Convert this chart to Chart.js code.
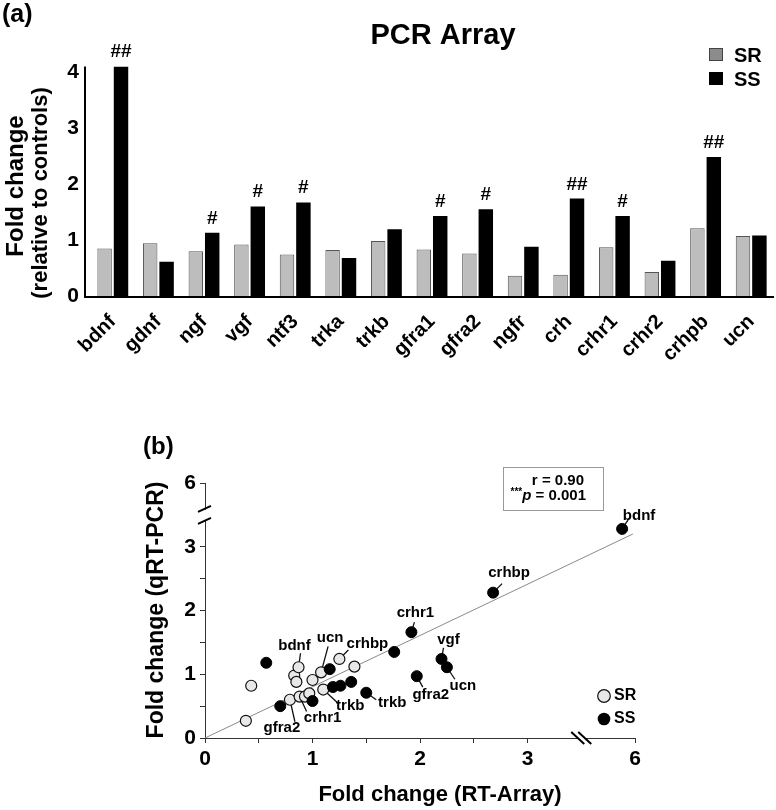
<!DOCTYPE html>
<html>
<head>
<meta charset="utf-8">
<script src="https://cdn.jsdelivr.net/npm/chart.js@4.4.1/dist/chart.umd.min.js"></script>
<style>
  html, body { margin: 0; padding: 0; background: #fff; }
  #wrap { position: relative; width: 776px; height: 810px; overflow: hidden; }
  #pcrChart { position: absolute; left: 0; top: 0; }
  #corrChart { position: absolute; left: 0; top: 430px; }
</style>
</head>
<body>
<div id="wrap">
  <canvas id="pcrChart" width="776" height="400"></canvas>
  <canvas id="corrChart" width="776" height="380"></canvas>
</div>
<script>
const FONT = "'Liberation Sans', Arial, Helvetica, sans-serif";

// ---- panel (a): PCR array fold changes ----
const genes = ['bdnf', 'gdnf', 'ngf', 'vgf', 'ntf3', 'trka', 'trkb', 'gfra1', 'gfra2', 'ngfr', 'crh', 'crhr1', 'crhr2', 'crhpb', 'ucn'];
const srFold = [0.85, 0.94, 0.80, 0.92, 0.74, 0.82, 0.98, 0.83, 0.76, 0.36, 0.38, 0.87, 0.43, 1.21, 1.07];
const ssFold = [4.10, 0.61, 1.13, 1.60, 1.67, 0.68, 1.19, 1.43, 1.55, 0.88, 1.74, 1.43, 0.63, 2.48, 1.08];
const ssSig = ['##', '', '#', '#', '#', '', '', '#', '#', '', '##', '#', '', '##', ''];
const foldTicks = [0, 1, 2, 3, 4];

// ---- panel (b): RT-array vs qRT-PCR (axis units, above the break is compressed) ----
const ssRT = [0.57, 0.70, 1.00, 1.16, 1.19, 1.26, 1.36, 1.50, 1.76, 1.92, 1.97, 2.20, 2.25, 2.68, 3.88];
const ssQ = [1.18, 0.50, 0.58, 1.08, 0.80, 0.82, 0.88, 0.71, 1.35, 1.66, 0.97, 1.24, 1.11, 2.28, 3.28];
const ssTags = ['', '', '', '', '', '', '', 'trkb', '', 'crhr1', 'gfra2', 'vgf', 'ucn', 'crhbp', 'bdnf'];
const srRT = [0.38, 0.43, 0.79, 0.83, 0.85, 0.87, 0.88, 0.93, 0.97, 1.00, 1.08, 1.10, 1.25, 1.39];
const srQ = [0.27, 0.82, 0.60, 0.98, 0.88, 1.11, 0.65, 0.65, 0.70, 0.91, 1.03, 0.76, 1.24, 1.12];
const srTags = ['', '', 'gfra2', '', '', 'bdnf', 'crhr1', '', '', '', 'ucn', 'trkb', 'crhbp', ''];
const fitRT = [0, 3.98];
const fitQ = [0, 3.20];
const axisTicks = [0, 0.5, 1, 1.5, 2, 2.5, 3, 4];
const axisTickLabels = ['0', '', '1', '', '2', '', '3', '6'];
const statR = 'r = 0.90';
const statP = ' = 0.001';

// label placement: [text dx, text dy, leader end dx, leader end dy] from the point
const tagLayout = {
  'SS:bdnf': [17, -13, 6, -9],
  'SS:crhbp': [16, -20, 9, -9],
  'SS:crhr1': [4, -19, 3, -10],
  'SS:vgf': [7, -19, 2, -11],
  'SS:ucn': [16, 19, 8, 12],
  'SS:gfra2': [14, 19, 6, 11],
  'SS:trkb': [26, 10, 10, 7],
  'SR:bdnf': [-4, -21, 2, -14],
  'SR:ucn': [9, -34, 7, -26],
  'SR:crhbp': [28, -15, 9, -9],
  'SR:trkb': [27, 16, 14, 13],
  'SR:crhr1': [23, 21, 7, 15],
  'SR:gfra2': [-8, 28, 5, 22]
};

function bold(size) { return 'bold ' + size + 'px ' + FONT; }

const pcrDecor = {
  id: 'pcrDecor',
  afterDraw(chart) {
    const { ctx, chartArea: a, scales: { y } } = chart;
    ctx.save();
    // axes
    ctx.strokeStyle = '#000';
    ctx.lineWidth = 2;
    ctx.beginPath();
    ctx.moveTo(a.left - 5, y.getPixelForValue(4.1));
    ctx.lineTo(a.left - 5, a.bottom + 1);
    ctx.lineTo(a.right, a.bottom + 1);
    ctx.stroke();

    // significance marks over SS bars
    ctx.fillStyle = '#000';
    ctx.font = bold(19);
    ctx.textAlign = 'center';
    ctx.textBaseline = 'alphabetic';
    chart.getDatasetMeta(1).data.forEach((bar, i) => {
      if (ssSig[i]) ctx.fillText(ssSig[i], bar.x, bar.y - 9);
    });

    // title + panel letter
    ctx.font = bold(29);
    ctx.fillText('PCR Array', 443, 44);
    ctx.textAlign = 'left';
    ctx.font = bold(25);
    ctx.fillText('(a)', 2, 22);

    // legend
    const lx = a.right - 65;
    ctx.lineWidth = 1;
    ctx.fillStyle = '#8c8c8c';
    ctx.strokeStyle = '#444';
    ctx.fillRect(lx, 48, 14, 13);
    ctx.strokeRect(lx + 0.5, 48.5, 13, 12);
    ctx.fillStyle = '#000';
    ctx.fillRect(lx, 72, 14, 13);
    ctx.font = bold(20);
    ctx.textBaseline = 'middle';
    ctx.fillText('SR', lx + 25, 56);
    ctx.fillText('SS', lx + 25, 80);

    // y axis title
    ctx.save();
    ctx.translate(16, 186);
    ctx.rotate(-Math.PI / 2);
    ctx.textAlign = 'center';
    ctx.font = bold(24);
    ctx.fillText('Fold change', 0, 0);
    ctx.restore();
    ctx.save();
    ctx.translate(41, 193);
    ctx.rotate(-Math.PI / 2);
    ctx.textAlign = 'center';
    ctx.font = bold(22);
    ctx.fillText('(relative to controls)', 0, 0);
    ctx.restore();
    ctx.restore();
  }
};

new Chart(document.getElementById('pcrChart'), {
  type: 'bar',
  data: {
    labels: genes,
    datasets: [
      { label: 'SR', data: srFold, backgroundColor: '#bdbdbd', borderColor: '#555', borderWidth: 1 },
      { label: 'SS', data: ssFold, backgroundColor: '#000', borderColor: '#000', borderWidth: 0 }
    ]
  },
  options: {
    responsive: false,
    animation: false,
    events: [],
    layout: { padding: { top: 66.4, right: 2, left: 0, bottom: 0 } },
    datasets: { bar: { categoryPercentage: 0.72, barPercentage: 0.88 } },
    plugins: { legend: { display: false }, tooltip: { enabled: false } },
    scales: {
      x: {
        grid: { display: false },
        border: { display: false },
        afterFit: (s) => { s.height = 104; },
        ticks: {
          autoSkip: false, maxRotation: 45, minRotation: 45, padding: 6,
          color: '#000', font: { family: FONT, size: 20, weight: 'bold' }
        }
      },
      y: {
        min: 0, max: 4.1,
        grid: { display: false, drawTicks: false },
        border: { display: false },
        afterFit: (s) => { s.width = 90; },
        afterBuildTicks: (s) => { s.ticks = foldTicks.map(v => ({ value: v })); },
        ticks: { padding: 11, color: '#000', font: { family: FONT, size: 21, weight: 'bold' } }
      }
    }
  },
  plugins: [pcrDecor]
});

function drawTags(chart, fn) {
  const groups = [['SS', 0, ssTags], ['SR', 1, srTags]];
  groups.forEach(([g, di, tags]) => {
    chart.getDatasetMeta(di).data.forEach((pt, i) => {
      const tag = tags[i];
      if (!tag) return;
      const p = tagLayout[g + ':' + tag];
      if (p) fn(pt, tag, p);
    });
  });
}

const corrDecor = {
  id: 'corrDecor',
  beforeDatasetsDraw(chart) {
    const ctx = chart.ctx;
    ctx.save();
    ctx.strokeStyle = '#111';
    ctx.lineWidth = 1.3;
    drawTags(chart, (pt, tag, p) => {
      ctx.beginPath();
      ctx.moveTo(pt.x, pt.y);
      ctx.lineTo(pt.x + p[2], pt.y + p[3]);
      ctx.stroke();
    });
    ctx.restore();
  },
  afterDatasetsDraw(chart) {
    const ctx = chart.ctx;
    ctx.save();
    ctx.fillStyle = '#000';
    ctx.font = bold(15);
    ctx.textAlign = 'center';
    ctx.textBaseline = 'middle';
    drawTags(chart, (pt, tag, p) => {
      ctx.fillText(tag, pt.x + p[0], pt.y + p[1]);
    });
    ctx.restore();
  },
  afterDraw(chart) {
    const { ctx, chartArea: a, scales: { x, y } } = chart;
    ctx.save();
    // axis breaks
    const yb = y.getPixelForValue(3.5);
    ctx.fillStyle = '#fff';
    ctx.fillRect(a.left - 2, yb - 5, 4, 10);
    const xb = x.getPixelForValue(3.5);
    ctx.fillRect(xb - 4, a.bottom - 2, 8, 4);
    ctx.strokeStyle = '#000';
    ctx.lineWidth = 2;
    ctx.beginPath();
    [-6, 6].forEach(d => {
      ctx.moveTo(a.left - 7, yb + d + 3);
      ctx.lineTo(a.left + 6, yb + d - 3);
    });
    [-3, 4].forEach(d => {
      ctx.moveTo(xb + d - 7, a.bottom - 6);
      ctx.lineTo(xb + d + 6, a.bottom + 6);
    });
    ctx.stroke();

    // stats box
    const bx = a.left + 298, by = a.top - 16, bw = 100, bh = 43;
    ctx.strokeStyle = '#999';
    ctx.lineWidth = 1;
    ctx.strokeRect(bx + 0.5, by + 0.5, bw, bh);
    ctx.fillStyle = '#000';
    ctx.textBaseline = 'middle';
    ctx.textAlign = 'right';
    ctx.font = bold(15);
    const rEdge = bx + bw - 17;
    ctx.fillText(statR, rEdge - 2, by + 14);
    ctx.fillText(statP, rEdge, by + 29);
    let cx = rEdge - ctx.measureText(statP).width;
    ctx.font = 'italic bold 15px ' + FONT;
    ctx.fillText('p', cx, by + 29);
    cx -= ctx.measureText('p').width;
    ctx.font = bold(10);
    ctx.fillText('***', cx, by + 25);

    // legend
    ctx.textAlign = 'left';
    const lx = a.right - 31;
    ctx.lineWidth = 1.2;
    ctx.strokeStyle = '#111';
    ctx.fillStyle = '#e8e8e8';
    ctx.beginPath();
    ctx.arc(lx, a.bottom - 42, 6.3, 0, Math.PI * 2);
    ctx.fill();
    ctx.stroke();
    ctx.fillStyle = '#000';
    ctx.beginPath();
    ctx.arc(lx, a.bottom - 19, 6.3, 0, Math.PI * 2);
    ctx.fill();
    ctx.font = bold(16);
    ctx.fillText('SR', lx + 10, a.bottom - 42);
    ctx.fillText('SS', lx + 10, a.bottom - 19);

    // titles
    ctx.textAlign = 'center';
    ctx.font = bold(22);
    ctx.fillText('Fold change (RT-Array)', 440, 365);
    ctx.save();
    ctx.translate(157, 180);
    ctx.rotate(-Math.PI / 2);
    ctx.font = bold(23);
    ctx.fillText('Fold change (qRT-PCR)', 0, 0);
    ctx.restore();
    ctx.textAlign = 'left';
    ctx.font = bold(24);
    ctx.fillText('(b)', 143, 17);
    ctx.restore();
  }
};

const axisStyle = {
  type: 'linear', min: 0, max: 4,
  grid: { display: true, drawOnChartArea: false, drawTicks: true, tickLength: 5, color: '#333', lineWidth: 1 },
  border: { display: true, color: '#333', width: 1 },
  afterBuildTicks: (s) => { s.ticks = axisTicks.map(v => ({ value: v })); },
  ticks: {
    autoSkip: false, maxRotation: 0, padding: 4, color: '#000',
    font: { family: FONT, size: 21, weight: 'bold' },
    callback: (v, i) => axisTickLabels[i]
  }
};

new Chart(document.getElementById('corrChart'), {
  type: 'scatter',
  data: {
    datasets: [
      { label: 'SS', data: ssRT.map((v, i) => ({ x: v, y: ssQ[i] })), backgroundColor: '#000', borderColor: '#000', borderWidth: 1, pointRadius: 5.5, order: 1 },
      { label: 'SR', data: srRT.map((v, i) => ({ x: v, y: srQ[i] })), backgroundColor: '#e8e8e8', borderColor: '#111', borderWidth: 1.2, pointRadius: 5.5, order: 2 },
      { type: 'line', label: 'fit', data: fitRT.map((v, i) => ({ x: v, y: fitQ[i] })), borderColor: '#8a8a8a', borderWidth: 1, pointRadius: 0, fill: false, order: 3 }
    ]
  },
  options: {
    responsive: false,
    animation: false,
    events: [],
    layout: { padding: { top: 53, right: 141, left: 0, bottom: 0 } },
    plugins: { legend: { display: false }, tooltip: { enabled: false } },
    scales: {
      x: Object.assign({}, axisStyle, { afterFit: (s) => { s.height = 72; } }),
      y: Object.assign({}, axisStyle, { afterFit: (s) => { s.width = 205; } })
    }
  },
  plugins: [corrDecor]
});
</script>
</body>
</html>
